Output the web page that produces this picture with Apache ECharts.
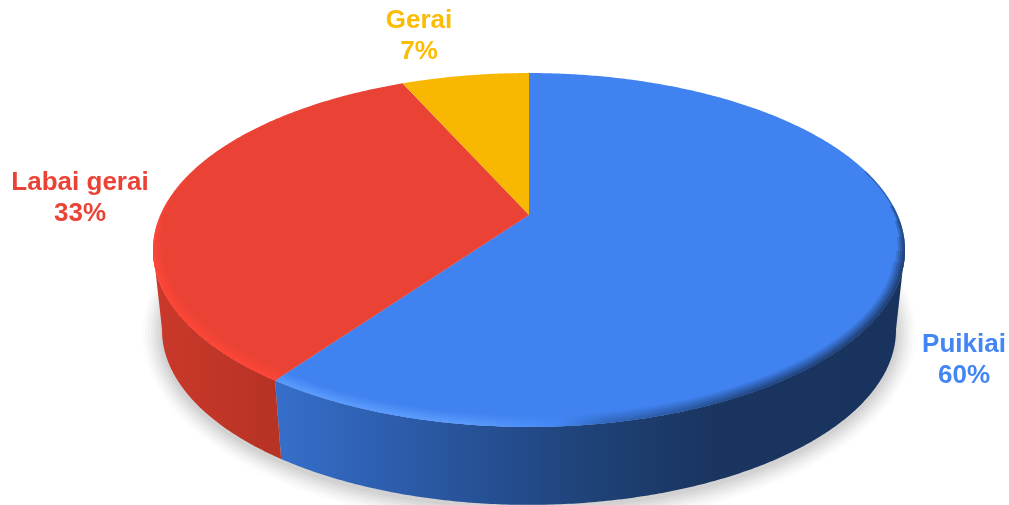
<!DOCTYPE html>
<html><head><meta charset="utf-8">
<style>html,body{margin:0;padding:0;background:#fff}#c{width:1009px;height:505px}</style>
<script src="https://cdn.jsdelivr.net/npm/echarts@6/dist/echarts.min.js"></script>
</head><body><div id="c"></div>
<script>
const categories = ['Puikiai', 'Labai gerai', 'Gerai'];
const shares = [60, 33, 7];
const topColors = ['#4082F0', '#EA4335', '#F8B802'];
const textColors = ['#4285F4', '#EA4335', '#FBBC04'];
const labelAnchors = [[964, 360], [80, 198], [419, 36]];

// Projection of the pie disc (perspective view)
const apex = [529, 215], a = 368.6, b = 170, k = -0.1976;
const rimCentre = [529, 250], rimR = [376, 177];
const floorCentre = [529, 330], floorR = [367, 175];
const total = shares.reduce((s, v) => s + v, 0);
// slight lens distortion of the view, in degrees around the disc
const lens = [[0, 0], [216, -0.7], [334.8, 1.3], [360, 0]];

function warp(deg) {
  for (let i = 1; i < lens.length; i++) {
    if (deg <= lens[i][0]) {
      const f = (deg - lens[i - 1][0]) / (lens[i][0] - lens[i - 1][0]);
      return deg + lens[i - 1][1] + (lens[i][1] - lens[i - 1][1]) * f;
    }
  }
  return deg;
}
function project(deg) {
  const t = warp(deg) * Math.PI / 180, u = Math.sin(t), v = -Math.cos(t), w = 1 + k * v;
  return [apex[0] + a * u / w, apex[1] + b * v / w];
}
function toFloor(p) {
  return [floorCentre[0] + (p[0] - rimCentre[0]) * floorR[0] / rimR[0],
          floorCentre[1] + (p[1] - rimCentre[1]) * floorR[1] / rimR[1]];
}
function inset(p, d) {
  const sx = 1 - d / rimR[0], sy = 1 - d / rimR[1];
  return [rimCentre[0] + (p[0] - rimCentre[0]) * sx, rimCentre[1] + (p[1] - rimCentre[1]) * sy];
}
function arc(d0, d1) {
  const pts = [], n = Math.ceil((d1 - d0) * 2);
  for (let i = 0; i <= n; i++) pts.push(project(d0 + (d1 - d0) * i / n));
  return pts;
}
const G = (stops) => new echarts.graphic.LinearGradient(150, 0, 905, 0,
  stops.map(s => ({offset: s[0], color: s[1]})), true);
const wallFill = [
  G([[0, '#366FCB'], [0.165, '#366FCB'], [0.33, '#2C5CAB'], [0.58, '#1F4278'], [0.74, '#1A3560'], [1, '#18335E']]),
  G([[0, '#CB392B'], [0.165, '#B73324'], [1, '#B73324']]),
  G([[0, '#C49000'], [1, '#C49000']])
];
const rimStroke = [
  G([[0, '#5E9EFF'], [0.42, '#5E9EFF'], [0.54, '#4488F6'], [0.6, '#3065B8'], [0.8, '#1E3F74'], [1, '#1A3560']]),
  G([[0, '#FF4638'], [1, '#FF4638']]),
  G([[0, '#F8B802'], [1, '#F8B802']])
];
// stacked soft strokes of the bevel: width, opacity, how far up the rim it runs
const bevel = [[11, 0.14, 262], [9, 0.18, 250], [7, 0.24, 236], [5, 0.3, 220], [3, 0.38, 205], [1.5, 0.4, 170]];
// stacked soft rings of the cast shadow: growth, opacity
const shadowRings = [[20, 0.012], [17, 0.018], [14, 0.022], [11, 0.026], [8, 0.03], [5, 0.032], [2, 0.035]];

function renderSlice(params, api) {
  const i = params.dataIndex;
  let start = 0;
  for (let j = 0; j < i; j++) start += shares[j];
  const d0 = start / total * 360, d1 = (start + api.value(0)) / total * 360;
  const rim = arc(d0, d1);
  const children = [];
  if (i === 0) {
    const all = arc(0, 360).map(toFloor);
    shadowRings.forEach(r => {
      const pts = all.map(p => [
        floorCentre[0] + (p[0] - floorCentre[0]) * (1 + r[0] / floorR[0]),
        floorCentre[1] + 3 + (p[1] - floorCentre[1]) * (1 + r[0] / floorR[1])]);
      children.push({type: 'polygon', shape: {points: pts}, style: {fill: '#000', opacity: r[1]}});
    });
  }
  const front = rim.filter(p => p[1] >= rimCentre[1] - 2);
  if (front.length > 1) {
    const pts = front.concat(front.map(toFloor).reverse());
    children.push({type: 'polygon', shape: {points: pts}, style: {fill: wallFill[i]}});
  }
  children.push({type: 'polygon', shape: {points: [apex].concat(rim)},
    style: {fill: topColors[i]}});
  bevel.forEach(s => {
    const band = rim.filter(p => p[1] >= s[2]);
    if (band.length > 1) {
      children.push({type: 'polyline', shape: {points: band.map(p => inset(p, s[0] / 2))},
        style: {fill: 'none', stroke: rimStroke[i], lineWidth: s[0], opacity: s[1]}});
    }
  });
  children.push({type: 'text', x: labelAnchors[i][0], y: labelAnchors[i][1],
    style: {text: categories[i] + '\n' + api.value(0) + '%', fill: textColors[i],
      font: 'bold 26px "Liberation Sans", Arial, sans-serif', lineHeight: 31,
      align: 'center', verticalAlign: 'middle'}});
  return {type: 'group', children};
}

const chart = echarts.init(document.getElementById('c'), null, {renderer: 'canvas'});
chart.setOption({
  animation: false,
  backgroundColor: '#fff',
  series: [{
    type: 'custom', coordinateSystem: 'none', silent: true, clip: false,
    renderItem: renderSlice,
    data: categories.map((c, i) => ({name: c, value: [shares[i]]}))
  }]
});
</script></body></html>
